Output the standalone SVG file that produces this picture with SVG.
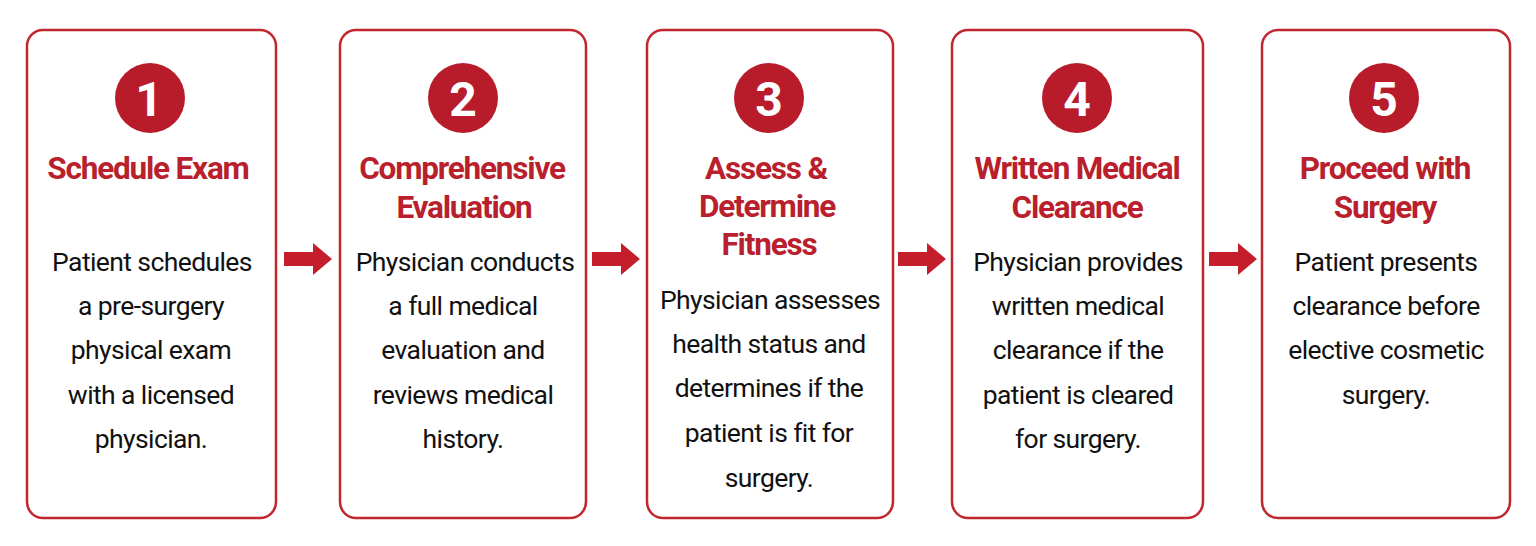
<svg xmlns="http://www.w3.org/2000/svg" width="1536" height="546" viewBox="0 0 1536 546">
<style>
.box{fill:#fff;stroke:#c1272f;stroke-width:2.5}
.num{fill:#b81c2a}
.numt{font-family:Roboto,"Liberation Sans",sans-serif;font-weight:bold;font-size:48px;fill:#fff;text-anchor:middle}
.title{font-family:Roboto,"Liberation Sans",sans-serif;font-weight:bold;font-size:31.5px;fill:#b91f2d;text-anchor:middle;letter-spacing:-1.2px}
.body{font-family:Roboto,"Liberation Sans",sans-serif;font-size:26.5px;fill:#111;text-anchor:middle;letter-spacing:-0.6px}
.arr{fill:#c41e2c}
</style>
<rect width="1536" height="546" fill="#fff"/>
<g id="connectors">
<path class="arr" d="M284 252 H313 V243 L332 259 L313 275 V266 H284 Z"/>
<path class="arr" d="M592 252 H621 V243 L640 259 L621 275 V266 H592 Z"/>
<path class="arr" d="M898 252 H927 V243 L946 259 L927 275 V266 H898 Z"/>
<path class="arr" d="M1209 252 H1238 V243 L1257 259 L1238 275 V266 H1209 Z"/>
</g>
<g id="step1">
<rect class="box" x="27" y="30" width="249" height="488" rx="16"/>
<circle class="num" cx="150" cy="98" r="35"/>
<text class="numt" x="149" y="116">1</text>
<text class="title" x="148" y="179">Schedule Exam</text>
<text class="body" x="152" y="271">Patient schedules</text>
<text class="body" x="151" y="315">a pre-surgery</text>
<text class="body" x="151" y="359">physical exam</text>
<text class="body" x="151" y="404">with a licensed</text>
<text class="body" x="151" y="448">physician.</text>
</g>
<g id="step2">
<rect class="box" x="340" y="30" width="246" height="488" rx="16"/>
<circle class="num" cx="463" cy="98" r="35"/>
<text class="numt" x="463" y="116">2</text>
<text class="title" x="462" y="179">Comprehensive</text>
<text class="title" x="464" y="218">Evaluation</text>
<text class="body" x="465" y="271">Physician conducts</text>
<text class="body" x="463" y="315">a full medical</text>
<text class="body" x="463" y="359">evaluation and</text>
<text class="body" x="463" y="404">reviews medical</text>
<text class="body" x="463" y="448">history.</text>
</g>
<g id="step3">
<rect class="box" x="647" y="30" width="246" height="488" rx="16"/>
<circle class="num" cx="769" cy="98" r="35"/>
<text class="numt" x="769" y="116">3</text>
<text class="title" x="766" y="179">Assess &amp;</text>
<text class="title" x="767" y="217">Determine</text>
<text class="title" x="769" y="255">Fitness</text>
<text class="body" x="770" y="309">Physician assesses</text>
<text class="body" x="769" y="353">health status and</text>
<text class="body" x="769" y="397">determines if the</text>
<text class="body" x="769" y="442">patient is fit for</text>
<text class="body" x="769" y="487">surgery.</text>
</g>
<g id="step4">
<rect class="box" x="952" y="30" width="251" height="488" rx="16"/>
<circle class="num" cx="1077" cy="98" r="35"/>
<text class="numt" x="1077" y="116">4</text>
<text class="title" x="1077" y="179">Written Medical</text>
<text class="title" x="1077" y="218">Clearance</text>
<text class="body" x="1078" y="271">Physician provides</text>
<text class="body" x="1078" y="315">written medical</text>
<text class="body" x="1078" y="359">clearance if the</text>
<text class="body" x="1078" y="404">patient is cleared</text>
<text class="body" x="1078" y="448">for surgery.</text>
</g>
<g id="step5">
<rect class="box" x="1262" y="30" width="248" height="488" rx="16"/>
<circle class="num" cx="1384" cy="98" r="35"/>
<text class="numt" x="1384" y="116">5</text>
<text class="title" x="1385" y="179">Proceed with</text>
<text class="title" x="1385" y="218">Surgery</text>
<text class="body" x="1386" y="271">Patient presents</text>
<text class="body" x="1386" y="315">clearance before</text>
<text class="body" x="1386" y="359">elective cosmetic</text>
<text class="body" x="1386" y="404">surgery.</text>
</g>
</svg>
